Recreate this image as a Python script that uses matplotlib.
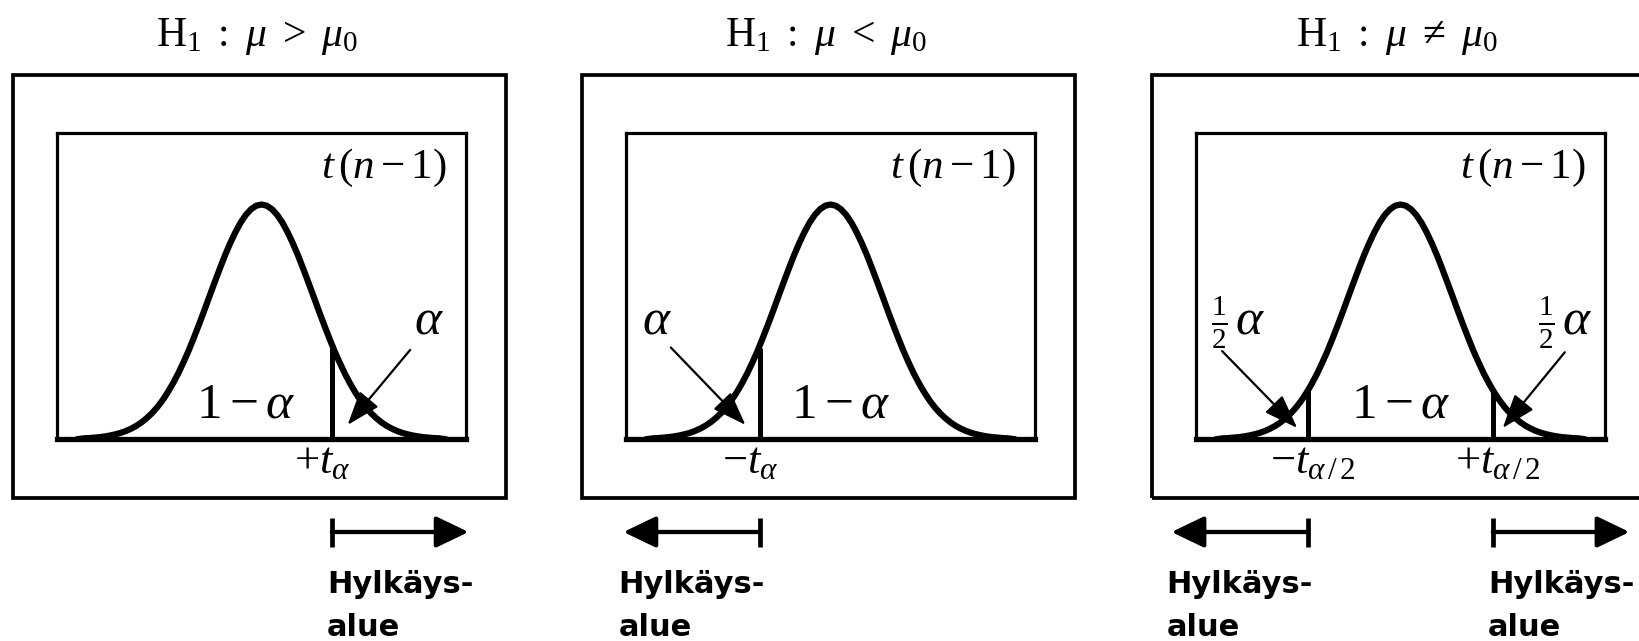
import matplotlib
matplotlib.use("Agg")
import matplotlib.pyplot as plt
import matplotlib.transforms as mtransforms
from matplotlib.patches import Rectangle

plt.rcParams["mathtext.fontset"] = "custom"
plt.rcParams["mathtext.rm"] = "Liberation Serif"
plt.rcParams["mathtext.it"] = "Liberation Serif:italic"
plt.rcParams["mathtext.bf"] = "Liberation Serif:bold"

# density curve, relative to peak height (symmetric)
z_half = [0.0, 0.1, 0.2, 0.3, 0.4, 0.5, 0.6, 0.7, 0.8, 0.9,
          1.0, 1.1, 1.2, 1.3, 1.4, 1.5, 1.6, 1.7, 1.8, 1.9,
          2.0, 2.1, 2.2, 2.3, 2.4, 2.5, 2.6, 2.7, 2.8, 2.9,
          3.0, 3.1, 3.2, 3.3, 3.4, 3.5]
h_half = [1.000, 0.995, 0.980, 0.956, 0.923, 0.882, 0.835, 0.783, 0.726, 0.667,
          0.607, 0.546, 0.487, 0.430, 0.375, 0.325, 0.278, 0.236, 0.198, 0.164,
          0.135, 0.110, 0.089, 0.071, 0.056, 0.044, 0.034, 0.026, 0.020, 0.015,
          0.011, 0.008, 0.006, 0.004, 0.003, 0.0]
z_curve = [-v for v in reversed(z_half[1:])] + z_half
h_curve = list(reversed(h_half[1:])) + h_half

titles = [r"$\mathrm{H}_1\ :\ \mu\ >\ \mu_0$",
          r"$\mathrm{H}_1\ :\ \mu\ <\ \mu_0$",
          r"$\mathrm{H}_1\ :\ \mu\ \neq\ \mu_0$"]
dist_label = r"$t\,(n-1)$"
body_label = r"$1-\alpha$"
body_x = [-0.31, 0.19, 0.0]

crit_values = [[1.35], [-1.35], [-1.77, 1.77]]
crit_heights = [[0.39], [0.39], [0.21, 0.21]]
crit_labels = [[r"$+t_\alpha$"], [r"$-t_\alpha$"],
               [r"$-t_{\alpha\,/\,2}$", r"$+t_{\alpha\,/\,2}$"]]
reject_dirs = [[1], [-1], [-1, 1]]
reject_lines = ["Hylkäys-", "alue"]

tail_label = r"$\alpha$"
half_label = r"$\frac{1}{2}$"
tail_half = [False, False, True]
tail_label_xy = [[(3.21, 0.452)], [(-3.33, 0.452)],
                 [(-2.88, 0.452), (3.38, 0.452)]]
tail_arrows = [[((2.85, 0.38), (1.65, 0.06))],
               [((-3.06, 0.39), (-1.63, 0.06))],
               [((-3.42, 0.375), (-1.98, 0.047)), ((3.15, 0.37), (1.96, 0.047))]]

# layout in pixels of the 1640x641 picture
W, H = 1640, 641
inner_left = [57, 626, 1196]
inner_w = 409
inner_top, inner_bot = 133, 439
outer_top, outer_bot = 75, 498
reject_len = 2.62

fig = plt.figure(figsize=(W / 100, H / 100), dpi=100)


def ay(py):
    return (inner_bot - py) / (inner_bot - inner_top)


for i in range(3):
    x0 = inner_left[i]
    ax = fig.add_axes([x0 / W, 1 - inner_bot / H, inner_w / W,
                       (inner_bot - inner_top) / H])
    ax.set_xlim(-3.92, 3.92)
    ax.set_ylim(0, 1.305)
    ax.set_xticks([])
    ax.set_yticks([])
    for side in ["top", "left", "right"]:
        ax.spines[side].set_linewidth(2.3)
    ax.spines["bottom"].set_linewidth(3.8)

    # outer frame
    fig.add_artist(Rectangle(((x0 - 44) / W, 1 - outer_bot / H),
                             (inner_w + 84) / W, (outer_bot - outer_top) / H,
                             transform=fig.transFigure, fill=False,
                             lw=2.7, ec="black"))

    fig.text((x0 + inner_w / 2 - 4) / W, 1 - 46 / H, titles[i],
             ha="center", va="baseline", fontsize=30)

    ax.plot(z_curve, h_curve, color="black", lw=4.5,
            solid_joinstyle="round", zorder=3)
    ax.text(0.953, ay(178), dist_label, transform=ax.transAxes,
            ha="right", va="baseline", fontsize=31)
    ax.text(body_x[i], ay(417) * 1.305, body_label, ha="center",
            va="baseline", fontsize=37)

    trans = mtransforms.blended_transform_factory(ax.transData, ax.transAxes)
    for c, hc, lab, d in zip(crit_values[i], crit_heights[i],
                             crit_labels[i], reject_dirs[i]):
        ax.plot([c, c], [0, hc], color="black", lw=3.6,
                solid_capstyle="butt", zorder=3)
        ax.annotate(lab, xy=(c, 0), xytext=(-38, -34),
                    textcoords="offset pixels", ha="left", va="baseline",
                    fontsize=32, annotation_clip=False)
        # rejection region arrow
        ax.plot([c, c], [ay(518), ay(547)], color="black", lw=3.4,
                transform=trans, clip_on=False, solid_capstyle="butt")
        ax.annotate("", xy=(c + d * reject_len, ay(532)),
                    xytext=(c, ay(532)), xycoords=trans,
                    arrowprops=dict(arrowstyle="-|>,head_length=1.0,head_width=0.48",
                                    mutation_scale=20, lw=3.1, color="black",
                                    shrinkA=0, shrinkB=0),
                    annotation_clip=False)
        tx = min(c, c + d * reject_len)
        for line, py in zip(reject_lines, [593, 636]):
            ax.annotate(line, xy=(tx, ay(py)), xycoords=trans,
                        xytext=(-5, 0), textcoords="offset pixels",
                        ha="left", va="baseline", fontsize=22,
                        fontweight="bold", family="DejaVu Sans",
                        annotation_clip=False)

    for (lx, ly), (start, end) in zip(tail_label_xy[i], tail_arrows[i]):
        ax.text(lx, ly, tail_label, ha="center", va="baseline", fontsize=37)
        if tail_half[i]:
            ax.annotate(half_label, xy=(lx, ly), xytext=(-31, 10),
                        textcoords="offset pixels", ha="center",
                        va="center", fontsize=30)
        ax.annotate("", xy=end, xytext=start,
                    arrowprops=dict(arrowstyle="-|>,head_length=2.1,head_width=0.75",
                                    mutation_scale=10, lw=1.6, color="black",
                                    shrinkA=0, shrinkB=0), zorder=4)

fig.savefig("out.png", dpi=100, facecolor="white")
